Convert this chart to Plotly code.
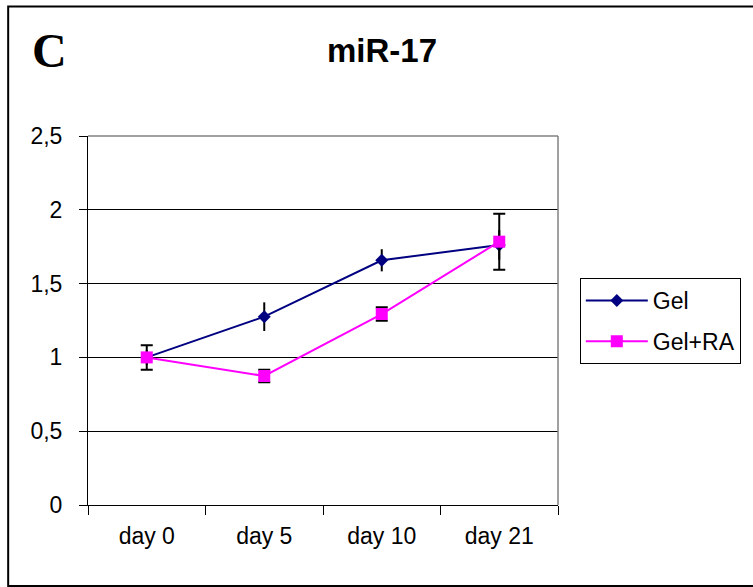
import plotly.graph_objects as go

categories = ["day 0", "day 5", "day 10", "day 21"]
gel = [1.0, 1.276, 1.658, 1.762]
gel_err = [0.05, 0.097, 0.075, 0.10]
gel_ra = [1.0, 0.874, 1.294, 1.784]
gel_ra_err = [0.083, 0.043, 0.046, 0.19]

FONT = "Liberation Sans, Arial, sans-serif"

fig = go.Figure()
fig.add_trace(go.Scatter(
    x=categories, y=gel, name="Gel", mode="lines+markers", legendgroup="a",
    line=dict(color="#000080", width=2),
    marker=dict(symbol="diamond", size=10, color="#000080", line=dict(width=0)),
    error_y=dict(type="data", array=gel_err, visible=True, color="#000000",
                 thickness=2, width=0),
))
fig.add_trace(go.Scatter(
    x=categories, y=gel_ra, name="Gel+RA", mode="lines+markers", legendgroup="b",
    line=dict(color="#FF00FF", width=2),
    marker=dict(symbol="square", size=12, color="#FF00FF", line=dict(width=0)),
    error_y=dict(type="data", array=gel_ra_err, visible=True, color="#000000",
                 thickness=2, width=6),
))

L, R, T, B = 88, 562, 136, 505
W, H = 753, 587
pw, ph = R - L, B - T

def px(x):
    return (x - L) / pw

def py(y):
    return (B - y) / ph

fig.update_layout(
    width=W, height=H,
    margin=dict(l=L, r=W - R, t=T, b=H - B),
    paper_bgcolor="white", plot_bgcolor="white",
    separators=",.",
    showlegend=True,
    font=dict(family=FONT, size=23, color="black"),
    legend=dict(
        x=px(584), y=py(278), xanchor="left", yanchor="top",
        bordercolor="black", borderwidth=1, bgcolor="white",
        font=dict(family=FONT, size=23, color="black"),
        itemwidth=62, traceorder="grouped", tracegroupgap=8,
    ),
    xaxis=dict(
        type="category", range=[-0.5, 3.5],
        showline=True, linecolor="black", linewidth=1,
        ticks="outside", ticklen=9, tickcolor="black", tickwidth=1,
        tickson="boundaries", showgrid=False, zeroline=False,
        tickfont=dict(family=FONT, size=23, color="black"),
        ticklabelstandoff=10,
    ),
    yaxis=dict(
        range=[0, 2.5], dtick=0.5, tick0=0,
        showline=True, linecolor="black", linewidth=1,
        ticks="outside", ticklen=8, tickcolor="black", tickwidth=1,
        showgrid=True, gridcolor="#000000", gridwidth=1, zeroline=False,
        tickfont=dict(family=FONT, size=23, color="black"),
        ticklabelstandoff=12,
    ),
    shapes=[
        dict(type="line", xref="paper", yref="paper", x0=0, x1=1, y0=1, y1=1,
             line=dict(color="#808080", width=1.5)),
        dict(type="line", xref="paper", yref="paper", x0=1, x1=1, y0=0, y1=1,
             line=dict(color="#808080", width=1.5)),
        dict(type="rect", xref="paper", yref="paper",
             x0=px(7.5), x1=px(820), y0=py(586), y1=py(6.5),
             line=dict(color="black", width=2), fillcolor="rgba(0,0,0,0)"),
    ],
    annotations=[
        dict(text="<b>C</b>", xref="paper", yref="paper", x=px(49.5), y=py(51),
             xanchor="center", yanchor="middle", showarrow=False,
             font=dict(family="Liberation Serif, Times New Roman, serif", size=48, color="black")),
        dict(text="<b>miR-17</b>", xref="paper", yref="paper", x=px(384), y=py(51),
             xanchor="center", yanchor="middle", showarrow=False,
             font=dict(family=FONT, size=33, color="black")),
    ],
)

fig.write_html("out.html")
